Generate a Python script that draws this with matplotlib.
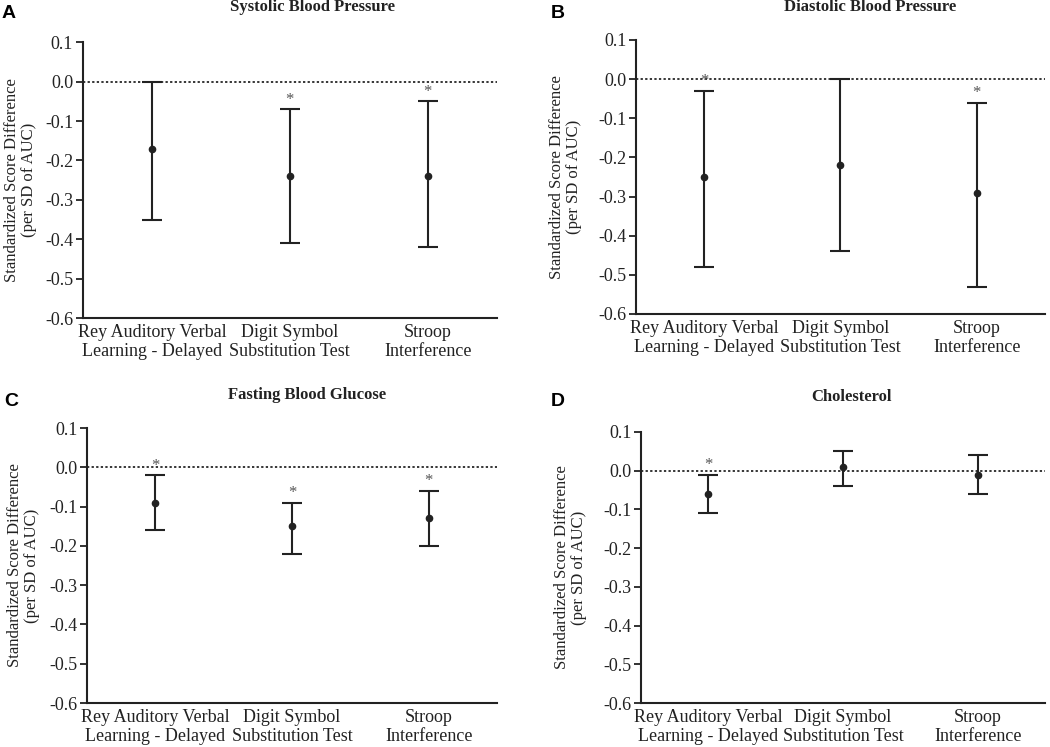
import matplotlib
matplotlib.use('Agg')
import matplotlib.pyplot as plt

tests = ['Rey Auditory Verbal\nLearning - Delayed', 'Digit Symbol\nSubstitution Test', 'Stroop\nInterference']
titles = ['Systolic Blood Pressure', 'Diastolic Blood Pressure', 'Fasting Blood Glucose', 'Cholesterol']
letters = ['A', 'B', 'C', 'D']

sbp_mean = [-0.17, -0.24, -0.24]
sbp_low = [-0.35, -0.41, -0.42]
sbp_high = [0.0, -0.07, -0.05]
sbp_star = [False, True, True]

dbp_mean = [-0.25, -0.22, -0.29]
dbp_low = [-0.48, -0.44, -0.53]
dbp_high = [-0.03, 0.0, -0.06]
dbp_star = [True, False, True]

fbg_mean = [-0.09, -0.15, -0.13]
fbg_low = [-0.16, -0.22, -0.20]
fbg_high = [-0.02, -0.09, -0.06]
fbg_star = [True, True, True]

chol_mean = [-0.06, 0.01, -0.01]
chol_low = [-0.11, -0.04, -0.06]
chol_high = [-0.01, 0.05, 0.04]
chol_star = [True, False, False]

yticks = [0.1, 0.0, -0.1, -0.2, -0.3, -0.4, -0.5, -0.6]

panels = [
    (sbp_mean, sbp_low, sbp_high, sbp_star),
    (dbp_mean, dbp_low, dbp_high, dbp_star),
    (fbg_mean, fbg_low, fbg_high, fbg_star),
    (chol_mean, chol_low, chol_high, chol_star),
]

# axes rectangles in figure fraction
rects = [
    [0.079, 0.574, 0.394, 0.3695],
    [0.6057, 0.5797, 0.3895, 0.3668],
    [0.0829, 0.0589, 0.3905, 0.368],
    [0.6105, 0.0589, 0.3848, 0.3628],
]
label_x = [-0.111, -0.132, -0.115, -0.134]
title_pos = [(312, 7), (870, 7), (307, 395), (851, 397)]
letter_pos = [(9, 13), (558, 13), (11, 402), (558, 402)]

plt.rcParams['font.family'] = 'Liberation Serif'
ink = '#222222'

fig = plt.figure(figsize=(10.5, 7.47), dpi=100)

for i, (mean, low, high, star) in enumerate(panels):
    ax = fig.add_axes(rects[i])
    x = [1, 2, 3]
    yerr = [[m - l for m, l in zip(mean, low)], [h - m for m, h in zip(mean, high)]]
    ax.axhline(0, color='black', linestyle=(0, (1.5, 1.5)), linewidth=1.1, zorder=1)
    ax.errorbar(x, mean, yerr=yerr, fmt='o', color=ink, ecolor=ink, markersize=4.5,
                elinewidth=1.5, capsize=7, capthick=1.5, zorder=3)
    for xi, h, s in zip(x, high, star):
        if s:
            ax.text(xi, h + 0.004, '*', ha='center', va='bottom', fontsize=12, color='#555555')
    ax.set_xlim(0.5, 3.5)
    ax.set_ylim(-0.6, 0.1)
    ax.set_yticks(yticks)
    ax.set_yticklabels(['%.1f' % v for v in yticks])
    ax.set_xticks(x)
    ax.set_xticklabels(tests)
    ax.tick_params(axis='x', length=0, pad=4, labelsize=13, colors=ink)
    ax.tick_params(axis='y', length=5, width=1.3, pad=2, labelsize=13, colors=ink)
    for side in ['top', 'right']:
        ax.spines[side].set_visible(False)
    for side in ['left', 'bottom']:
        ax.spines[side].set_linewidth(1.5)
        ax.spines[side].set_color(ink)
    ax.set_ylabel('Standardized Score Difference\n(per SD of AUC)', fontsize=12, color=ink,
                  linespacing=1.1)
    ax.yaxis.set_label_coords(label_x[i], 0.5)

    tx, ty = title_pos[i]
    fig.text(tx / 1050, 1 - ty / 747, titles[i], ha='center', va='center',
             fontsize=12, fontweight='bold', color=ink)
    lx, ly = letter_pos[i]
    fig.text(lx / 1050, 1 - ly / 747, letters[i], ha='center', va='center',
             fontsize=14, fontweight='bold', family='Liberation Sans', color='black')

fig.savefig('out.png', dpi=100)
